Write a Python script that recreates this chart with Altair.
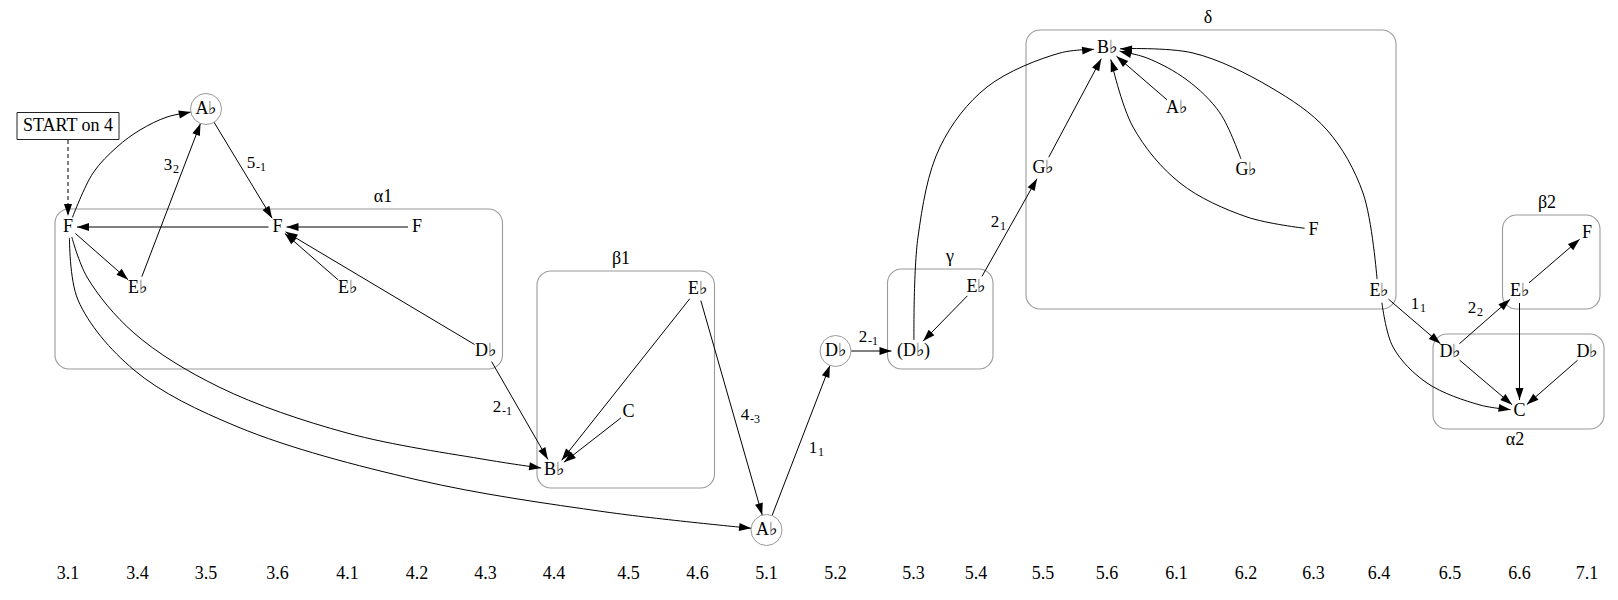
import math
import altair as alt
import pandas as pd

FONT = "Liberation Serif"
GRAY = "#9a9a9a"

# ---------------- data ----------------
col_labels = ["3.1", "3.4", "3.5", "3.6", "4.1", "4.2", "4.3", "4.4", "4.5", "4.6", "5.1", "5.2",
              "5.3", "5.4", "5.5", "5.6", "6.1", "6.2", "6.3", "6.4", "6.5", "6.6", "7.1"]
col_pos = [68, 137.5, 206, 277.5, 347.5, 417, 485.5, 554, 628.5, 697.5, 766.5, 835.5,
           913.5, 976, 1043, 1107, 1176.5, 1246, 1313.5, 1379, 1450, 1519.5, 1587]
axis_row = 574

node_ids = ["START", "F31", "Eb34", "Ab35", "F36", "Eb41", "F42", "Db43", "Bb44", "C45", "Eb46",
            "Ab51", "Db52", "Db53", "Eb54", "Gb55", "Bb56", "Ab61", "Gb62", "F63", "Eb64",
            "Db65", "Eb66", "C66", "F71", "Db71"]
node_text = ["START on 4", "F", "E♭", "A♭", "F", "E♭", "F", "D♭", "B♭", "C", "E♭",
             "A♭", "D♭", "(D♭)", "E♭", "G♭", "B♭", "A♭", "G♭", "F", "E♭",
             "D♭", "E♭", "C", "F", "D♭"]
node_col = [0, 0, 1, 2, 3, 4, 5, 6, 7, 8, 9,
            10, 11, 12, 13, 14, 15, 16, 17, 18, 19,
            20, 21, 21, 22, 22]
node_row = [126, 227, 288, 109, 227, 288, 227, 351, 470, 412, 289,
            530, 351, 351, 287, 168, 48, 108, 170, 230, 291,
            352, 291, 411, 233, 352]
node_shape = ["box", "text", "text", "circle", "text", "text", "text", "text", "text", "text", "text",
              "circle", "circle", "text", "text", "text", "text", "text", "text", "text", "text",
              "text", "text", "text", "text", "text"]

edge_src = ["START", "F31", "Eb34", "Ab35", "F36", "F42", "Eb41", "Db43", "F31", "F31", "F31",
            "Db43", "Eb46", "C45", "Eb46", "Ab51", "Db52", "Eb54", "Db53", "Eb54", "Gb55",
            "Ab61", "Gb62", "F63", "Eb64", "Eb64", "Eb64", "Db65", "Db65", "Eb66", "Eb66", "Db71"]
edge_dst = ["F31", "Ab35", "Ab35", "F36", "F31", "F36", "F36", "F36", "Eb34", "Bb44", "Ab51",
            "Bb44", "Bb44", "Bb44", "Ab51", "Db52", "Db53", "Db53", "Bb56", "Gb55", "Bb56",
            "Bb56", "Bb56", "Bb56", "Bb56", "Db65", "C66", "Eb66", "C66", "F71", "C66", "C66"]
# points read on each curved edge (empty = straight edge)
edge_way = [[], [(93, 173), (117, 147), (140, 130), (167, 117)], [], [], [], [], [], [], [],
            [(87, 277), (134, 333), (219, 387), (347, 433), (488, 460)],
            [(78, 300), (134, 370), (238, 427), (418, 480), (606, 512)],
            [], [], [], [], [], [], [],
            [(918, 237), (940, 147), (987, 87), (1060, 53)],
            [], [], [],
            [(1220, 113), (1187, 80), (1147, 58)],
            [(1247, 217), (1180, 183), (1133, 127)],
            [(1363, 193), (1327, 130), (1270, 87), (1193, 53)],
            [],
            [(1393, 347), (1427, 383), (1480, 405)],
            [], [], [], [], []]
edge_style = ["dashed"] + ["solid"] * 31

elabel_main = ["3", "5", "2", "4", "1", "2", "2", "1", "2"]
elabel_sub = ["2", "-1", "-1", "-3", "1", "-1", "1", "1", "2"]
elabel_x = [168, 251, 497, 745, 813, 863, 995, 1415, 1472]
elabel_y = [165, 163, 407, 415, 448, 337, 222, 304, 308]

cluster_names = ["α1", "β1", "γ", "δ", "β2", "α2"]
cluster_members = [["F31", "Eb34", "F36", "Eb41", "F42", "Db43"],
                   ["Bb44", "C45", "Eb46"],
                   ["Db53", "Eb54"],
                   ["Gb55", "Bb56", "Ab61", "Gb62", "F63", "Eb64"],
                   ["Eb66", "F71"],
                   ["Db65", "C66", "Db71"]]
cluster_label_side = ["top", "top", "top", "top", "top", "bottom"]
cluster_label_x = [383, 621, 950, 1208, 1547, 1515]

# ---------------- geometry helpers ----------------
nodes = {}
for i, nid in enumerate(node_ids):
    nodes[nid] = dict(x=col_pos[node_col[i]], y=node_row[i], text=node_text[i], shape=node_shape[i])


def half_size(n):
    if n["shape"] == "circle":
        return (15.5, 15.5)
    if n["shape"] == "box":
        return (51.0, 14.0)
    t = n["text"]
    if t.startswith("("):
        return (22.0, 11.0)
    if len(t) == 1:
        return (9.0, 11.0)
    return (13.0, 12.0)


def reach(n, ux, uy):
    hx, hy = half_size(n)
    if n["shape"] == "circle":
        return hx
    if n["shape"] == "box":
        c = []
        if abs(ux) > 1e-9:
            c.append(hx / abs(ux))
        if abs(uy) > 1e-9:
            c.append(hy / abs(uy))
        return min(c)
    return 1.0 / math.sqrt((ux / hx) ** 2 + (uy / hy) ** 2)


def unit(dx, dy):
    d = math.hypot(dx, dy)
    return dx / d, dy / d


ARROW_LEN = 12
line_rows, arrow_rows = [], []
for k in range(len(edge_src)):
    S, T = nodes[edge_src[k]], nodes[edge_dst[k]]
    sx, sy, tx, ty = S["x"], S["y"], T["x"], T["y"]
    way = edge_way[k]
    first = way[0] if way else (tx, ty)
    last = way[-1] if way else (sx, sy)
    ux0, uy0 = unit(first[0] - sx, first[1] - sy)
    r0 = reach(S, ux0, uy0)
    p0 = (sx + ux0 * r0, sy + uy0 * r0)
    ex, ey = unit(tx - last[0], ty - last[1])
    r2 = reach(T, ex, ey)
    p2 = (tx - ex * r2, ty - ey * r2)
    pts = [p0] + list(way) + [p2]
    for j, (px, py) in enumerate(pts):
        line_rows.append(dict(edge=k, order=j, x=px, y=py, style=edge_style[k]))
    ang = math.degrees(math.atan2(ex, -ey)) % 360
    arrow_rows.append(dict(x=p2[0] - ex * ARROW_LEN / 2, y=p2[1] - ey * ARROW_LEN / 2, ang=ang))

lines_df = pd.DataFrame(line_rows)
arrows_df = pd.DataFrame(arrow_rows)

node_df = pd.DataFrame([dict(id=k, **v) for k, v in nodes.items()])
circle_df = node_df[node_df["shape"] == "circle"]
start_df = pd.DataFrame([dict(x0=nodes["START"]["x"] - 51, x1=nodes["START"]["x"] + 51,
                              y0=nodes["START"]["y"] - 13.5, y1=nodes["START"]["y"] + 13.5)])

PAD_V = 18
cl_rows, cl_lab = [], []
for i, name in enumerate(cluster_names):
    mem = [nodes[m] for m in cluster_members[i]]
    x0 = min(n["x"] - half_size(n)[0] for n in mem) - 4
    x1 = max(n["x"] + half_size(n)[0] for n in mem) + 4
    y0 = min(n["y"] for n in mem) - PAD_V
    y1 = max(n["y"] for n in mem) + PAD_V
    cl_rows.append(dict(x0=x0, x1=x1, y0=y0, y1=y1))
    ly = y0 - 12 if cluster_label_side[i] == "top" else y1 + 11
    cl_lab.append(dict(x=cluster_label_x[i], y=ly, text=name))
cl_df = pd.DataFrame(cl_rows)
cl_lab_df = pd.DataFrame(cl_lab)

el_df = pd.DataFrame(dict(x=elabel_x, y=elabel_y, main=elabel_main, sub=elabel_sub))
ax_df = pd.DataFrame(dict(x=col_pos, y=[axis_row] * len(col_pos), text=col_labels))

# ---------------- chart ----------------
xs = alt.Scale(domain=[8, 1608], zero=False, nice=False)
ys = alt.Scale(domain=[8, 588], zero=False, nice=False, reverse=True)


def X(f="x"):
    return alt.X(f"{f}:Q", scale=xs, axis=None)


def Y(f="y"):
    return alt.Y(f"{f}:Q", scale=ys, axis=None)


clusters = alt.Chart(cl_df).mark_rect(filled=False, stroke=GRAY, strokeWidth=1.1, cornerRadius=14).encode(
    x=X("x0"), x2=alt.X2("x1"), y=Y("y0"), y2=alt.Y2("y1"))

start_box = alt.Chart(start_df).mark_rect(filled=False, stroke="#222222", strokeWidth=1).encode(
    x=X("x0"), x2=alt.X2("x1"), y=Y("y0"), y2=alt.Y2("y1"))

solid = alt.Chart(lines_df).transform_filter(alt.datum.style == "solid").mark_line(
    color="black", strokeWidth=1, interpolate="catmull-rom").encode(
    x=X(), y=Y(), detail="edge:N", order="order:Q")

dashed = alt.Chart(lines_df).transform_filter(alt.datum.style == "dashed").mark_line(
    color="black", strokeWidth=1, strokeDash=[4, 3]).encode(
    x=X(), y=Y(), detail="edge:N", order="order:Q")

arrows = alt.Chart(arrows_df).mark_point(
    shape="M0,-1L0.667,1L-0.667,1Z", size=144, filled=True, color="black", opacity=1).encode(
    x=X(), y=Y(), angle=alt.Angle("ang:Q", scale=None))

circles = alt.Chart(circle_df).mark_point(
    shape="circle", size=961, filled=False, color=GRAY, strokeWidth=1, opacity=1).encode(x=X(), y=Y())

node_txt = alt.Chart(node_df).mark_text(font=FONT, fontSize=18, baseline="middle", align="center",
                                        color="black").encode(x=X(), y=Y(), text="text:N")

el_main = alt.Chart(el_df).mark_text(font=FONT, fontSize=17, baseline="middle", align="center",
                                     color="black").encode(x=X(), y=Y(), text="main:N")
el_sub = alt.Chart(el_df).mark_text(font=FONT, fontSize=12, baseline="middle", align="left",
                                    dx=5, dy=4, color="black").encode(x=X(), y=Y(), text="sub:N")

cl_txt = alt.Chart(cl_lab_df).mark_text(font=FONT, fontSize=18, baseline="middle", align="center",
                                        color="black").encode(x=X(), y=Y(), text="text:N")

ax_txt = alt.Chart(ax_df).mark_text(font=FONT, fontSize=18, baseline="middle", align="center",
                                    color="black").encode(x=X(), y=Y(), text="text:N")

chart = alt.layer(clusters, start_box, solid, dashed, arrows, circles, node_txt, el_main, el_sub,
                  cl_txt, ax_txt).properties(
    width=1600, height=580, autosize=alt.AutoSizeParams(type="none"), padding=0,
    background="white").configure_view(strokeWidth=0)

chart.save("out.html", embed_options={"renderer": "svg", "actions": False})
